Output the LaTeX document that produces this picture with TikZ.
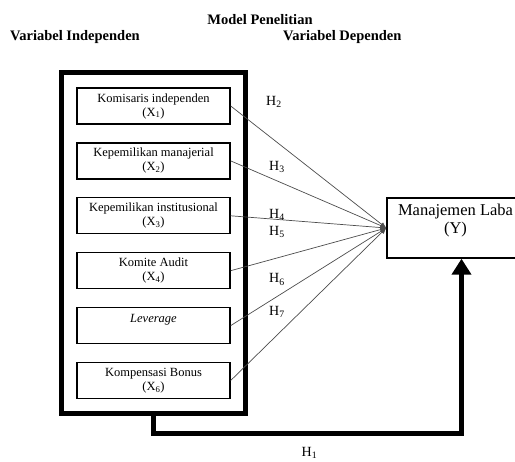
\documentclass[tikz,border=0pt]{standalone}
\usepackage{fontspec}
\setmainfont{Liberation Serif}
\usetikzlibrary{arrows.meta,positioning,fit}

\begin{document}
\begin{tikzpicture}[
   x=1pt,y=-1pt,
   node distance=17.5pt,
   varbox/.style={draw,line width=1.4pt,minimum width=153pt,minimum height=36pt,
               align=center,font=\fontsize{12.5}{14}\selectfont},
   frame/.style={draw,line width=5pt,inner sep=14.5pt},
   ybox/.style={draw,line width=1.4pt,minimum width=137pt,minimum height=60pt,
               align=center,font=\fontsize{16.5}{18}\selectfont},
   head/.style={font=\fontsize{14.5}{16}\selectfont\bfseries,inner sep=0pt},
   hyp/.style={font=\fontsize{14}{16}\selectfont,inner sep=0pt},
   link/.style={-{Latex[length=6pt,width=5pt]},draw=black!70,line width=0.7pt},
   feed/.style={-{Triangle[length=16pt,width=19pt]},line width=5pt}
 ]
  \useasboundingbox (0,0) rectangle (515,462);
  \node[head] (title) at (260,20) {Model Penelitian};
  \node[head,anchor=west] (indep) at (10,37) {Variabel Independen};
  \node[head,anchor=west] (dep) at (283,37) {Variabel Dependen};

  \node[varbox] (x1) at (153.5,106) {Komisaris independen\\(X\textsubscript{1})};
  \node[varbox,below=of x1] (x2) {Kepemilikan manajerial\\(X\textsubscript{2})};
  \node[varbox,below=of x2] (x3) {Kepemilikan institusional\\(X\textsubscript{3})};
  \node[varbox,below=of x3] (x4) {Komite Audit\\(X\textsubscript{4})};
  \node[varbox,below=of x4] (x5) {\textit{Leverage}\\\mbox{}};
  \node[varbox,below=of x5] (x6) {Kompensasi Bonus\\(X\textsubscript{6})};
  \node[frame,fit=(x1)(x6)] (outer) {};

  \node[ybox] (y) at (455.5,228) {Manajemen Laba\\(Y)\\\mbox{}};

  \draw[link] (x1.east) -- (y.west);
  \draw[link] (x2.east) -- (y.west);
  \draw[link] (x3.east) -- (y.west);
  \draw[link] (x4.east) -- (y.west);
  \draw[link] (x5.east) -- (y.west);
  \draw[link] (x6.east) -- (y.west);
  \draw[feed] (outer.south) -- ++(0,17) -| ([xshift=6pt]y.south);

  \node[hyp] (h2) at (274,102) {H\textsubscript{2}};
  \node[hyp] (h3) at (277,167) {H\textsubscript{3}};
  \node[hyp] (h4) at (277,215) {H\textsubscript{4}};
  \node[hyp] (h5) at (277,232) {H\textsubscript{5}};
  \node[hyp] (h6) at (277,279.5) {H\textsubscript{6}};
  \node[hyp] (h7) at (277,312) {H\textsubscript{7}};
  \node[hyp] (h1) at (309.5,453) {H\textsubscript{1}};
 \end{tikzpicture}
\end{document}
